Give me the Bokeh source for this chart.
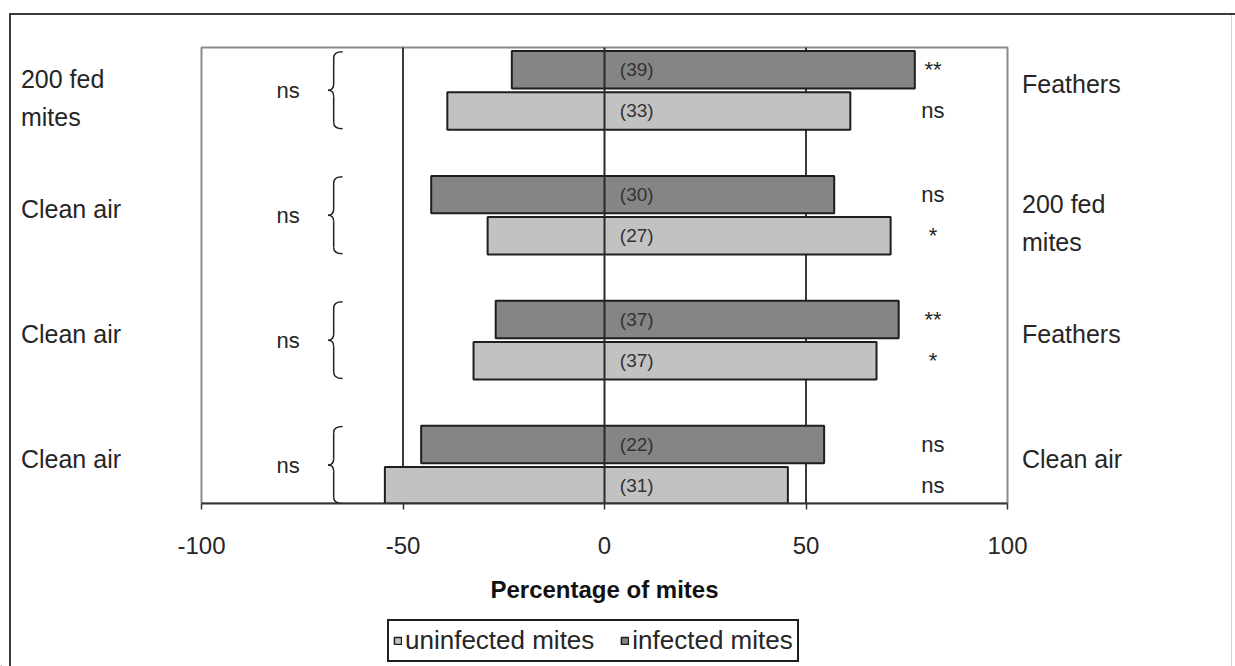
from bokeh.plotting import figure
from bokeh.layouts import column
from bokeh.models import ColumnDataSource, Range1d, FixedTicker, Legend, LegendItem
from bokeh.core.properties import value
from bokeh.embed import file_html
from bokeh.resources import INLINE

# Odour offered in each arm of the olfactometer, top test to bottom test
left_odour = ["200 fed\nmites", "Clean air", "Clean air", "Clean air"]
right_odour = ["Feathers", "200 fed\nmites", "Feathers", "Clean air"]

# Percentage of mites choosing the left (negative) and the right arm
uninfected_left = [-39, -29, -32.5, -54.5]
uninfected_right = [61, 71, 67.5, 45.5]
infected_left = [-23, -43, -27, -45.5]
infected_right = [77, 57, 73, 54.5]

# Number of mites tested
uninfected_n = [33, 27, 37, 31]
infected_n = [39, 30, 37, 22]

# Significance of each choice test, and of uninfected vs infected
uninfected_sig = ["ns", "*", "*", "ns"]
infected_sig = ["**", "ns", "**", "ns"]
between_sig = ["ns", "ns", "ns", "ns"]

x_ticks = [-100, -50, 0, 50, 100]
grid_ticks = [-50, 50]

FONT = "Liberation Sans"
TEXT = "#262626"
EDGE = "#1e1e1e"
LIGHT = "#c2c2c2"
DARK = "#858585"

n = len(left_odour)
centre = [n - 1 - i for i in range(n)]
bar_h = 0.30
off = 0.165
y_inf = [c + off for c in centre]
y_uninf = [c - off for c in centre]

# canvas layout: the frame holds the odour names on both sides,
# the percentage scale runs from -100 to 100 inside it
W = 1235
main_h, legend_h = 612, 54
px_per_pct = 4.03
px_per_step = 124.9
frame_w, frame_h = 1208, 503
x_pad = frame_w / 2 / px_per_pct
y_start = -0.308
y_end = y_start + frame_h / px_per_step
box_top = n - 1 + 0.342

p = figure(width=W, height=main_h,
           x_range=Range1d(-x_pad, x_pad), y_range=Range1d(y_start, y_end),
           output_backend="svg", toolbar_location=None, y_axis_location=None,
           min_border_left=0, min_border_right=W - frame_w,
           min_border_top=0, min_border_bottom=main_h - frame_h)
p.border_fill_alpha = 0
p.background_fill_alpha = 0
p.outline_line_color = None
p.xgrid.visible = False
p.ygrid.visible = False

# plot box and vertical gridlines
p.quad(left=[-100], right=[100], bottom=[y_start], top=[box_top],
       fill_color=None, line_color="#8a8a8a", line_width=2)
p.segment(x0=grid_ticks, x1=grid_ticks, y0=[y_start] * len(grid_ticks),
          y1=[box_top] * len(grid_ticks), line_color="#3a3a3a", line_width=2)

# x axis
ax = p.xaxis[0]
ax.bounds = (x_ticks[0], x_ticks[-1])
ax.ticker = FixedTicker(ticks=x_ticks)
ax.major_label_overrides = {t: str(t) for t in x_ticks}
ax.axis_label = "Percentage of mites"
ax.axis_label_text_font = FONT
ax.axis_label_text_font_style = "bold"
ax.axis_label_text_font_size = "24px"
ax.axis_label_text_color = "#111111"
ax.axis_label_standoff = 19
ax.major_label_text_font = FONT
ax.major_label_text_font_size = "24px"
ax.major_label_text_color = TEXT
ax.major_label_standoff = 27
ax.axis_line_color = "#333333"
ax.axis_line_width = 2
ax.major_tick_line_color = "#333333"
ax.major_tick_line_width = 1.5
ax.major_tick_in = 0
ax.major_tick_out = 6
ax.minor_tick_line_color = None

# bars
src_u = ColumnDataSource(dict(y=y_uninf, left=uninfected_left, right=uninfected_right))
src_i = ColumnDataSource(dict(y=y_inf, left=infected_left, right=infected_right))
p.hbar(y="y", left="left", right="right", height=bar_h, source=src_u,
       fill_color=LIGHT, line_color=EDGE, line_width=2)
p.hbar(y="y", left="left", right="right", height=bar_h, source=src_i,
       fill_color=DARK, line_color=EDGE, line_width=2)

# zero line over the bars
p.segment(x0=[0], x1=[0], y0=[y_start], y1=[box_top], line_color="#2a2a2a", line_width=2)

# sample sizes inside bars
p.text(x=[8] * (2 * n), y=y_inf + y_uninf,
       text=[f"({v})" for v in infected_n + uninfected_n],
       text_font=value(FONT), text_font_size="19px", text_color="#333333",
       text_align="center", text_baseline="middle")

# significance of each choice test
p.text(x=[81.5] * (2 * n), y=y_inf + y_uninf, text=infected_sig + uninfected_sig,
       text_font=value(FONT), text_font_size="22px", text_color=TEXT,
       text_align="center", text_baseline="middle")

# significance between uninfected and infected
p.text(x=[-78.5] * n, y=centre, text=between_sig,
       text_font=value(FONT), text_font_size="22px", text_color=TEXT,
       text_align="center", text_baseline="middle")

# curly braces joining each pair of bars
xs, xe, xt = -67.2, -65.0, -68.6
half, d = 0.308, 0.05
seg = dict(x0=[], y0=[], x1=[], y1=[])
quad = dict(x0=[], y0=[], x1=[], y1=[], cx=[], cy=[])
for c in centre:
    top, bot = c + half, c - half
    for a, b in ((top - d, c + d), (c - d, bot + d)):
        seg["x0"].append(xs); seg["y0"].append(a)
        seg["x1"].append(xs); seg["y1"].append(b)
    for (x0, y0, x1, y1, cx, cy) in ((xe, top, xs, top - d, xs, top),
                                     (xs, c + d, xt, c, xs, c),
                                     (xt, c, xs, c - d, xs, c),
                                     (xs, bot + d, xe, bot, xs, bot)):
        for k, v in zip(("x0", "y0", "x1", "y1", "cx", "cy"), (x0, y0, x1, y1, cx, cy)):
            quad[k].append(v)
p.segment(x0="x0", y0="y0", x1="x1", y1="y1", source=ColumnDataSource(seg),
          line_color="#222222", line_width=1.5)
p.quadratic(x0="x0", y0="y0", x1="x1", y1="y1", cx="cx", cy="cy",
            source=ColumnDataSource(quad), line_color="#222222", line_width=1.5)

# odour names on both sides of the plot box
for labels, x in ((left_odour, -144.8), (right_odour, 103.6)):
    ys = [c - (8 if "\n" in lab else -6) / px_per_step for c, lab in zip(centre, labels)]
    p.text(x=[x] * n, y=ys, text=labels,
           text_font=value(FONT), text_font_size="25px", text_color=TEXT,
           text_align="left", text_baseline="middle", text_line_height=1.35)

# legend strip under the axis title; its key swatches sit off-range
lg = figure(width=W, height=legend_h, x_range=Range1d(0, W), y_range=Range1d(0, legend_h),
            output_backend="svg", toolbar_location=None,
            x_axis_location=None, y_axis_location=None, min_border=0)
lg.border_fill_alpha = 0
lg.background_fill_alpha = 0
lg.outline_line_color = None
lg.xgrid.visible = False
lg.ygrid.visible = False
swatch = dict(y=[-1000], left=[0], right=[1])
k_u = lg.hbar(y="y", left="left", right="right", height=1, source=ColumnDataSource(swatch),
              fill_color=LIGHT, line_color=EDGE, line_width=1.5)
k_i = lg.hbar(y="y", left="left", right="right", height=1, source=ColumnDataSource(swatch),
              fill_color=DARK, line_color=EDGE, line_width=1.5)
legend = Legend(items=[LegendItem(label="uninfected mites", renderers=[k_u]),
                       LegendItem(label="infected mites", renderers=[k_i])],
                orientation="horizontal", location=(387, 4),
                glyph_width=9, glyph_height=9, label_standoff=3, spacing=26,
                padding=4, margin=0, label_height=24,
                label_text_font=FONT, label_text_font_size="26px",
                label_text_color=TEXT, border_line_color=EDGE, border_line_alpha=1,
                border_line_width=2, background_fill_alpha=1)
lg.add_layout(legend)

page = column(p, lg, spacing=0)
# outer chart border, drawn behind the transparent canvases
page.styles = {
    "background-color": "#ffffff",
    "background-image": ("linear-gradient(#3a3a3a, #3a3a3a), "
                         "linear-gradient(#3a3a3a, #3a3a3a), "
                         "linear-gradient(#d6d6d6, #d6d6d6)"),
    "background-position": "9px 13px, 9px 13px, 1231px 14px",
    "background-size": "2px 100%, 100% 2px, 1px 100%",
    "background-repeat": "no-repeat",
}

open("out.html", "w").write(file_html(page, INLINE))
